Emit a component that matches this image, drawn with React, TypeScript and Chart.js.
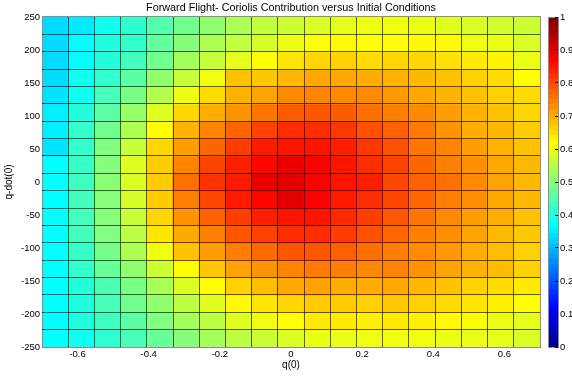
import React, { useEffect, useRef } from 'react';
import { Chart, registerables } from 'chart.js';

Chart.register(...registerables);

// Cell edges of the pcolor grid (q(0) horizontally, q-dot(0) vertically)
const qEdges = [
  -0.7, -0.6263, -0.5526, -0.4789, -0.4053, -0.3316, -0.2579, -0.1842, -0.1105, -0.0368,
  0.0368, 0.1105, 0.1842, 0.2579, 0.3316, 0.4053, 0.4789, 0.5526, 0.6263, 0.7,
];
const qdotEdges = [
  -250, -223.68, -197.37, -171.05, -144.74, -118.42, -92.11, -65.79, -39.47, -13.16,
  13.16, 39.47, 65.79, 92.11, 118.42, 144.74, 171.05, 197.37, 223.68, 250,
];

const qTicks = [-0.6, -0.4, -0.2, 0, 0.2, 0.4, 0.6];
const qdotTicks = [-250, -200, -150, -100, -50, 0, 50, 100, 150, 200, 250];
const colorbarTicks = [0, 0.1, 0.2, 0.3, 0.4, 0.5, 0.6, 0.7, 0.8, 0.9, 1];

// Coriolis contribution, rows listed from top (q-dot = 250) to bottom (q-dot = -250)
const row01 = [0.34, 0.355, 0.39, 0.42, 0.455, 0.485, 0.515, 0.545, 0.565, 0.575, 0.59, 0.6, 0.61, 0.61, 0.605, 0.595, 0.59, 0.58, 0.575];
const row02 = [0.34, 0.375, 0.405, 0.425, 0.47, 0.505, 0.545, 0.565, 0.585, 0.605, 0.625, 0.63, 0.625, 0.625, 0.63, 0.63, 0.61, 0.605, 0.59];
const row03 = [0.34, 0.375, 0.41, 0.44, 0.485, 0.535, 0.57, 0.6, 0.625, 0.65, 0.665, 0.67, 0.66, 0.665, 0.665, 0.655, 0.645, 0.635, 0.605];
const row04 = [0.34, 0.39, 0.425, 0.465, 0.515, 0.57, 0.61, 0.685, 0.68, 0.695, 0.71, 0.71, 0.705, 0.7, 0.695, 0.685, 0.67, 0.66, 0.625];
const row05 = [0.35, 0.39, 0.445, 0.495, 0.55, 0.61, 0.66, 0.7, 0.715, 0.74, 0.745, 0.74, 0.74, 0.725, 0.71, 0.7, 0.685, 0.67, 0.66];
const row06 = [0.36, 0.41, 0.465, 0.525, 0.595, 0.665, 0.705, 0.73, 0.76, 0.785, 0.79, 0.785, 0.765, 0.75, 0.74, 0.72, 0.7, 0.685, 0.665];
const row07 = [0.36, 0.425, 0.485, 0.545, 0.625, 0.7, 0.745, 0.775, 0.81, 0.83, 0.83, 0.82, 0.795, 0.78, 0.755, 0.73, 0.705, 0.695, 0.675];
const row08 = [0.35, 0.425, 0.5, 0.57, 0.665, 0.72, 0.775, 0.815, 0.85, 0.855, 0.855, 0.845, 0.82, 0.795, 0.76, 0.745, 0.72, 0.7, 0.685];
const row09 = [0.375, 0.43, 0.505, 0.595, 0.675, 0.745, 0.81, 0.845, 0.87, 0.895, 0.875, 0.855, 0.83, 0.81, 0.775, 0.75, 0.735, 0.71, 0.695];
const row10 = [0.375, 0.435, 0.51, 0.59, 0.675, 0.765, 0.825, 0.85, 0.895, 0.9, 0.875, 0.855, 0.845, 0.805, 0.78, 0.765, 0.74, 0.715, 0.695];
const row11 = [0.375, 0.44, 0.505, 0.585, 0.675, 0.75, 0.805, 0.85, 0.87, 0.9, 0.875, 0.85, 0.83, 0.805, 0.775, 0.75, 0.735, 0.71, 0.695];
const row12 = [0.375, 0.44, 0.505, 0.57, 0.665, 0.73, 0.78, 0.815, 0.845, 0.855, 0.855, 0.835, 0.815, 0.79, 0.76, 0.74, 0.72, 0.705, 0.685];
const row13 = [0.375, 0.44, 0.5, 0.56, 0.65, 0.71, 0.75, 0.79, 0.81, 0.83, 0.83, 0.815, 0.795, 0.775, 0.75, 0.735, 0.715, 0.695, 0.68];
const row14 = [0.375, 0.43, 0.49, 0.545, 0.61, 0.685, 0.72, 0.75, 0.77, 0.79, 0.79, 0.78, 0.765, 0.75, 0.74, 0.725, 0.705, 0.69, 0.67];
const row15 = [0.375, 0.425, 0.475, 0.515, 0.575, 0.625, 0.68, 0.715, 0.73, 0.745, 0.755, 0.75, 0.74, 0.745, 0.73, 0.715, 0.7, 0.69, 0.67];
const row16 = [0.375, 0.41, 0.45, 0.495, 0.54, 0.59, 0.625, 0.67, 0.69, 0.71, 0.715, 0.705, 0.705, 0.71, 0.695, 0.685, 0.67, 0.66, 0.645];
const row17 = [0.375, 0.405, 0.445, 0.485, 0.515, 0.56, 0.595, 0.63, 0.65, 0.665, 0.675, 0.675, 0.67, 0.68, 0.67, 0.66, 0.65, 0.64, 0.625];
const row18 = [0.375, 0.405, 0.435, 0.465, 0.5, 0.535, 0.56, 0.595, 0.61, 0.625, 0.645, 0.645, 0.64, 0.645, 0.64, 0.63, 0.62, 0.605, 0.6];
const row19 = [0.375, 0.39, 0.42, 0.445, 0.475, 0.505, 0.535, 0.56, 0.575, 0.59, 0.605, 0.605, 0.61, 0.61, 0.61, 0.605, 0.605, 0.6, 0.59];

const coriolisRows = [
  row01, row02, row03, row04, row05, row06, row07, row08, row09, row10,
  row11, row12, row13, row14, row15, row16, row17, row18, row19,
];

const colormapSize = 64;

const FONT = "'Liberation Sans', Arial, Helvetica, sans-serif";

function clamp01(x: number) {
  return Math.max(0, Math.min(1, x));
}

function jet(v: number) {
  const r = clamp01(1.5 - Math.abs(4 * v - 3));
  const g = clamp01(1.5 - Math.abs(4 * v - 2));
  const b = clamp01(1.5 - Math.abs(4 * v - 1));
  return `rgb(${Math.round(r * 255)},${Math.round(g * 255)},${Math.round(b * 255)})`;
}

export default function App() {
  const mainRef = useRef<HTMLCanvasElement | null>(null);
  const barRef = useRef<HTMLCanvasElement | null>(null);

  useEffect(() => {
    document.body.style.margin = '0';
    const nRows = coriolisRows.length;

    const datasets = coriolisRows.map((row, r) => {
      const lo = qdotEdges[nRows - 1 - r];
      const hi = qdotEdges[nRows - r];
      return {
        data: row.map((_, j) => ({ x: (qEdges[j] + qEdges[j + 1]) / 2, y: [lo, hi] })),
        backgroundColor: row.map((v) => jet(v)),
        borderWidth: 0,
        barPercentage: 1,
        categoryPercentage: 1,
        grouped: false,
        inflateAmount: 0.6,
      };
    });

    const innerQ = qEdges.slice(1, -1);
    const innerQdot = qdotEdges.slice(1, -1);
    const tickFont = { family: FONT, size: 9.5 };
    const titleFont = { family: FONT, size: 10 };
    const gridColor = 'rgba(0,0,0,0.62)';
    const boxColor = '#8c8c8c';

    const main = new Chart(mainRef.current as HTMLCanvasElement, {
      type: 'bar',
      data: { datasets: datasets as any },
      options: {
        animation: false,
        responsive: false,
        events: [],
        layout: { padding: { left: 0, right: 32, top: 0, bottom: 0 } },
        plugins: {
          legend: { display: false },
          tooltip: { enabled: false },
          title: {
            display: true,
            text: 'Forward Flight- Coriolis Contribution versus Initial Conditions',
            fullSize: false,
            color: '#000',
            font: { family: FONT, size: 10.8, weight: 'normal' },
            padding: { top: 1.5, bottom: 2.5 },
          },
        },
        scales: {
          x: {
            type: 'linear',
            position: 'bottom',
            min: -0.7,
            max: 0.7,
            offset: false,
            afterBuildTicks: (s: any) => {
              s.ticks = qTicks.map((value) => ({ value }));
            },
            afterFit: (s: any) => {
              s.height = 33;
            },
            ticks: {
              font: tickFont,
              color: '#000',
              padding: 1.5,
              autoSkip: false,
              maxRotation: 0,
              callback: (v: any) => String(v),
              z: 1,
            },
            grid: { display: false, drawTicks: false, offset: false },
            border: { display: true, color: boxColor, z: 1 },
            title: {
              display: true,
              text: 'q(0)',
              color: '#000',
              font: titleFont,
              padding: { top: 0, bottom: 8.5 },
            },
          },
          y: {
            type: 'linear',
            position: 'left',
            min: -250,
            max: 250,
            afterBuildTicks: (s: any) => {
              s.ticks = qdotTicks.map((value) => ({ value }));
            },
            afterFit: (s: any) => {
              s.width = 42;
            },
            ticks: {
              font: tickFont,
              color: '#000',
              padding: 2,
              autoSkip: false,
              callback: (v: any) => String(v),
              z: 1,
            },
            grid: { display: false, drawTicks: false },
            border: { display: true, color: boxColor, z: 1 },
            title: {
              display: true,
              text: 'q-dot(0)',
              color: '#000',
              font: titleFont,
              padding: { top: 3.5, bottom: 0 },
            },
          },
          xg: {
            type: 'linear',
            position: 'top',
            min: -0.7,
            max: 0.7,
            offset: false,
            afterBuildTicks: (s: any) => {
              s.ticks = innerQ.map((value) => ({ value }));
            },
            afterFit: (s: any) => {
              s.height = 0;
            },
            ticks: { display: false },
            grid: { display: true, drawTicks: false, offset: false, color: gridColor, lineWidth: 1, z: 1 },
            border: { display: true, color: boxColor, z: 1 },
          },
          yg: {
            type: 'linear',
            position: 'right',
            min: -250,
            max: 250,
            afterBuildTicks: (s: any) => {
              s.ticks = innerQdot.map((value) => ({ value }));
            },
            afterFit: (s: any) => {
              s.width = 0;
            },
            ticks: { display: false },
            grid: { display: true, drawTicks: false, color: gridColor, lineWidth: 1, z: 1 },
            border: { display: true, color: boxColor, z: 1 },
          },
        } as any,
      },
    });

    const levels = Array.from({ length: colormapSize }, (_, k) => k);
    const barDatasets = levels.map((k) => ({
      data: [[k / colormapSize, (k + 1) / colormapSize]],
      backgroundColor: jet((k + 1) / colormapSize),
      borderWidth: 0,
      barPercentage: 1,
      categoryPercentage: 1,
      grouped: false,
      inflateAmount: 0.6,
    }));

    const bar = new Chart(barRef.current as HTMLCanvasElement, {
      type: 'bar',
      data: { labels: ['c'], datasets: barDatasets as any },
      options: {
        animation: false,
        responsive: false,
        events: [],
        layout: { padding: { left: 8, right: 0, top: 17, bottom: 33 } },
        plugins: { legend: { display: false }, tooltip: { enabled: false }, title: { display: false } },
        scales: {
          x: {
            type: 'category',
            position: 'bottom',
            offset: true,
            afterFit: (s: any) => {
              s.height = 0;
            },
            ticks: { display: false },
            grid: { display: false, drawTicks: false },
            border: { display: true, color: boxColor, z: 1 },
          },
          xt: {
            type: 'category',
            position: 'top',
            offset: true,
            afterFit: (s: any) => {
              s.height = 0;
            },
            ticks: { display: false },
            grid: { display: false, drawTicks: false },
            border: { display: true, color: boxColor, z: 1 },
          },
          yl: {
            type: 'linear',
            position: 'left',
            min: 0,
            max: 1,
            afterFit: (s: any) => {
              s.width = 0;
            },
            ticks: { display: false },
            grid: { display: false, drawTicks: false },
            border: { display: true, color: boxColor, z: 1 },
          },
          y: {
            type: 'linear',
            position: 'right',
            min: 0,
            max: 1,
            afterBuildTicks: (s: any) => {
              s.ticks = colorbarTicks.map((value) => ({ value }));
            },
            afterFit: (s: any) => {
              s.width = 42;
            },
            ticks: {
              font: tickFont,
              color: '#000',
              padding: 5,
              autoSkip: false,
              callback: (v: any) => String(v),
              z: 1,
            },
            grid: {
              display: true,
              drawOnChartArea: false,
              drawTicks: true,
              tickLength: -3,
              color: '#000',
              tickColor: '#000',
              z: 1,
            },
            border: { display: true, color: boxColor, z: 1 },
          },
        } as any,
      },
    });

    return () => {
      main.destroy();
      bar.destroy();
    };
  }, []);

  return (
    <div
      style={{
        position: 'fixed',
        left: 0,
        top: 0,
        width: 572,
        height: 380,
        overflow: 'hidden',
        background: '#fff',
      }}
    >
      <canvas ref={mainRef} width={572} height={380} style={{ position: 'absolute', left: 0, top: 0 }} />
      <canvas ref={barRef} width={60} height={380} style={{ position: 'absolute', left: 540, top: 0 }} />
    </div>
  );
}
